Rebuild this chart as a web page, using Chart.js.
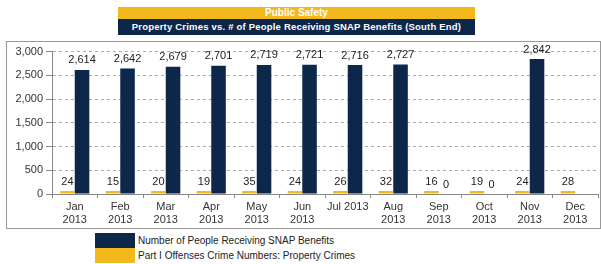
<!DOCTYPE html>
<html>
<head>
<meta charset="utf-8">
<script src="https://cdn.jsdelivr.net/npm/chart.js@4/dist/chart.umd.min.js"></script>
<style>
  body { margin: 0; background: #fff; font-family: "Liberation Sans", Arial, sans-serif; }
  #page { position: relative; width: 601px; height: 264px; overflow: hidden; }
  .band { position: absolute; left: 118px; width: 357px; color: #fff; font-weight: bold; text-align: center; white-space: nowrap; }
  #band1 { top: 7px; height: 12px; line-height: 12px; font-size: 10px; background: #F2B81C; }
  #band2 { top: 19px; height: 16px; line-height: 16px; font-size: 9.5px; background: #0C2749; letter-spacing: 0.2px; }
  #frame { position: absolute; left: 6px; top: 41px; width: 593px; height: 186px; border: 1px solid #999; }
  #chartBox { position: absolute; left: 0; top: 0; }
  #legend { position: absolute; left: 95px; top: 233px; font-size: 10px; color: #222; }
  .item { height: 15px; line-height: 15px; white-space: nowrap; }
  .swatch { display: inline-block; width: 40px; height: 15px; vertical-align: top; margin-right: 3px; }
</style>
</head>
<body>
<div id="page">
  <div class="band" id="band1">Public Safety</div>
  <div class="band" id="band2">Property Crimes vs. # of People Receiving SNAP Benefits (South End)</div>
  <div id="frame"><canvas id="chartBox" width="593" height="186"></canvas></div>
  <div id="legend"></div>
</div>
<script>
const months = [['Jan', '2013'], ['Feb', '2013'], ['Mar', '2013'], ['Apr', '2013'], ['May', '2013'], ['Jun', '2013'],
    'Jul 2013', ['Aug', '2013'], ['Sep', '2013'], ['Oct', '2013'], ['Nov', '2013'], ['Dec', '2013']];
const crimeValues = [24, 15, 20, 19, 35, 24, 26, 32, 16, 19, 24, 28];
const snapValues = [2614, 2642, 2679, 2701, 2719, 2721, 2716, 2727, 0, 0, 2842, null];
const crimeLabel = 'Part I Offenses Crime Numbers: Property Crimes';
const snapLabel = 'Number of People Receiving SNAP Benefits';
const yTicks = [0, 500, 1000, 1500, 2000, 2500, 3000];

const navy = '#0C2749';
const yellow = '#F2B81C';

// legend below the frame, SNAP first like the original
const legend = document.getElementById('legend');
[[snapLabel, navy], [crimeLabel, yellow]].forEach(function (entry) {
    const row = document.createElement('div');
    row.className = 'item';
    row.innerHTML = '<span class="swatch" style="background:' + entry[1] + '"></span>' + entry[0];
    legend.appendChild(row);
});

// numbers above each bar
const valueLabels = {
    id: 'valueLabels',
    afterDatasetsDraw(chart) {
        const ctx = chart.ctx;
        ctx.save();
        ctx.font = '11px "Liberation Sans", Arial, sans-serif';
        ctx.fillStyle = '#222';
        ctx.textAlign = 'center';
        ctx.textBaseline = 'bottom';
        chart.data.datasets.forEach(function (ds, i) {
            chart.getDatasetMeta(i).data.forEach(function (bar, j) {
                const v = ds.data[j];
                if (v === null || v === undefined) return;
                ctx.fillText(v.toLocaleString('en-US'), bar.x, bar.y - 4);
            });
        });
        ctx.restore();
    }
};

const ctx = document.getElementById('chartBox').getContext('2d');
new Chart(ctx, {
    type: 'bar',
    data: {
        labels: months,
        datasets: [
            { label: crimeLabel, data: crimeValues, backgroundColor: yellow, minBarLength: 3 },
            { label: snapLabel, data: snapValues, backgroundColor: navy }
        ]
    },
    options: {
        responsive: false,
        animation: false,
        categoryPercentage: 0.64,
        barPercentage: 1.0,
        layout: { padding: { top: 8, right: 2, left: 0, bottom: 0 } },
        plugins: { legend: { display: false }, tooltip: { enabled: false } },
        scales: {
            x: {
                grid: { drawOnChartArea: false, drawTicks: true, tickLength: 4, color: '#888' },
                border: { color: '#888' },
                ticks: { color: '#333', font: { size: 11, family: '"Liberation Sans", Arial, sans-serif' }, padding: 2, maxRotation: 0, autoSkip: false },
                afterFit: function (scale) { scale.height = 34; }
            },
            y: {
                min: 0,
                max: 3000,
                afterBuildTicks: function (scale) { scale.ticks = yTicks.map(function (v) { return { value: v }; }); },
                grid: { color: '#aaa', tickColor: '#888', tickLength: 6 },
                border: { color: '#888', dash: [3, 3] },
                ticks: {
                    color: '#333',
                    font: { size: 11, family: '"Liberation Sans", Arial, sans-serif' },
                    padding: 3,
                    callback: function (v) { return v.toLocaleString('en-US'); }
                },
                afterFit: function (scale) { scale.width = 45; }
            }
        }
    },
    plugins: [valueLabels]
});
</script>
</body>
</html>
